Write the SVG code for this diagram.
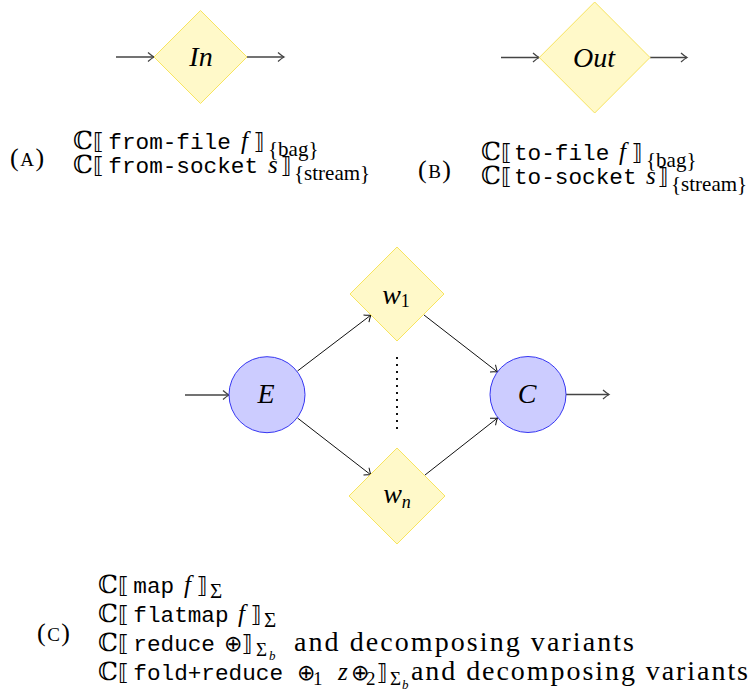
<svg xmlns="http://www.w3.org/2000/svg" width="754" height="699" viewBox="0 0 754 699">
<style>
.dia{fill:#fff9c9;stroke:#f7e45f;stroke-width:1}
.cir{fill:#ccccff;stroke:#3636f2;stroke-width:1}
.edge{stroke:#111;stroke-width:1;fill:none;marker-end:url(#ah)}
.io{stroke:#444;stroke-width:1.3;fill:none;marker-end:url(#ah2)}
.lbl{font-family:'Liberation Serif','DejaVu Serif',serif;font-style:italic;font-size:28px;text-anchor:middle;fill:#000}
.t{font-family:'Liberation Serif','DejaVu Serif',serif;font-size:25px;fill:#000}
.m{font-family:'DejaVu Sans','Liberation Serif',sans-serif;font-size:22px}
.tt{font-family:'Liberation Mono',monospace;font-size:22.7px}
.it{font-style:italic}
.sub{font-size:21px}
.ph{font-size:28px}
.lab{font-size:26px;letter-spacing:1.5px}
</style>
<defs>
<marker id="ah" markerUnits="userSpaceOnUse" markerWidth="12" markerHeight="12" viewBox="-8 -6 10 12" refX="0" refY="0" orient="auto"><path d="M-6,-4.5 Q-2,-1 0,0 Q-2,1 -6,4.5" fill="none" stroke="#111" stroke-width="1"/></marker>
<marker id="ah2" markerUnits="userSpaceOnUse" markerWidth="12" markerHeight="12" viewBox="-8 -6 10 12" refX="0" refY="0" orient="auto"><path d="M-6,-4.5 Q-2,-1 0,0 Q-2,1 -6,4.5" fill="none" stroke="#444" stroke-width="1.3"/></marker>
</defs>

<g id="connectors">
<line class="io" x1="116" y1="57" x2="154" y2="57"/>
<line class="io" x1="247" y1="57" x2="284" y2="57"/>
<line class="io" x1="501" y1="57.5" x2="539" y2="57.5"/>
<line class="io" x1="650" y1="57.5" x2="687" y2="57.5"/>
<line class="io" x1="185" y1="395" x2="229" y2="395"/>
<line class="io" x1="566" y1="394.5" x2="609" y2="394.5"/>
<line class="edge" x1="297.5" y1="371" x2="371" y2="315"/>
<line class="edge" x1="424" y1="315" x2="497.5" y2="372"/>
<line class="edge" x1="297.5" y1="418" x2="371" y2="475"/>
<line class="edge" x1="425" y1="475" x2="497.5" y2="418"/>
<line x1="397" y1="357" x2="397" y2="433" stroke="#111" stroke-width="2" stroke-dasharray="2 5"/>
</g>

<g id="node-in">
<polygon class="dia" points="200.5,10.5 247,57 200.5,103.5 154,57"/>
<text class="lbl" x="201" y="66">In</text>
</g>
<g id="node-out">
<polygon class="dia" points="594.7,2 650,57.5 594.7,113 539.3,57.5"/>
<text class="lbl" x="594" y="67">Out</text>
</g>
<g id="node-e">
<circle class="cir" cx="267" cy="394.7" r="38"/>
<text class="lbl" x="266" y="403">E</text>
</g>
<g id="node-c">
<circle class="cir" cx="528" cy="394.5" r="38"/>
<text class="lbl" x="527" y="403">C</text>
</g>
<g id="node-w1">
<polygon class="dia" points="397,247 444,294 397,341 350,294"/>
<text class="lbl" x="396" y="304">w<tspan font-style="normal" font-size="18" dy="3">1</tspan></text>
</g>
<g id="node-wn">
<polygon class="dia" points="397,448 445,496 397,544 349,496"/>
<text class="lbl" x="397" y="503">w<tspan font-size="18" dy="5">n</tspan></text>
</g>

<g id="caption-a">
<text class="t lab" x="10" y="166">(<tspan font-size="19">A</tspan>)</text>
<text class="t" y="148.5"><tspan x="73">ℂ</tspan><tspan class="m" x="93">⟦</tspan><tspan class="tt" x="108.3">from-file</tspan><tspan class="it" x="241">f</tspan><tspan class="m" x="254">⟧</tspan><tspan class="sub" x="268" y="156">{bag}</tspan></text>
<text class="t" y="172.5"><tspan x="73">ℂ</tspan><tspan class="m" x="93">⟦</tspan><tspan class="tt" x="108.3">from-socket</tspan><tspan class="it" x="268">s</tspan><tspan class="m" x="281">⟧</tspan><tspan class="sub" x="294" y="180">{stream}</tspan></text>
</g>

<g id="caption-b">
<text class="t lab" x="418" y="178">(<tspan font-size="19">B</tspan>)</text>
<text class="t" y="159.5"><tspan x="481">ℂ</tspan><tspan class="m" x="501">⟦</tspan><tspan class="tt" x="514">to-file</tspan><tspan class="it" x="619">f</tspan><tspan class="m" x="632">⟧</tspan><tspan class="sub" x="646" y="167">{bag}</tspan></text>
<text class="t" y="183.5"><tspan x="481">ℂ</tspan><tspan class="m" x="501">⟦</tspan><tspan class="tt" x="514">to-socket</tspan><tspan class="it" x="646">s</tspan><tspan class="m" x="658">⟧</tspan><tspan class="sub" x="671" y="191">{stream}</tspan></text>
</g>

<g id="caption-c">
<text class="t lab" x="37" y="641">(<tspan font-size="19">C</tspan>)</text>
<text class="t" y="593"><tspan x="98">ℂ</tspan><tspan class="m" x="118">⟦</tspan><tspan class="tt" x="133.3">map</tspan><tspan class="it" x="184">f</tspan><tspan class="m" x="197">⟧</tspan><tspan class="sub" font-size="19" x="210" y="598">Σ</tspan></text>
<text class="t" y="622"><tspan x="98">ℂ</tspan><tspan class="m" x="118">⟦</tspan><tspan class="tt" x="133.3">flatmap</tspan><tspan class="it" x="238">f</tspan><tspan class="m" x="251">⟧</tspan><tspan class="sub" font-size="19" x="264" y="627">Σ</tspan></text>
<text class="t" y="651"><tspan x="98">ℂ</tspan><tspan class="m" x="118">⟦</tspan><tspan class="tt" x="133.3">reduce</tspan><tspan class="m" x="224">⊕</tspan><tspan class="m" x="242">⟧</tspan><tspan font-size="19" x="256" y="656">Σ</tspan><tspan class="it" font-size="13" x="269" y="660">b</tspan><tspan class="ph" x="294" y="651" textLength="340" lengthAdjust="spacing">and decomposing variants</tspan></text>
<text class="t" y="680"><tspan x="98">ℂ</tspan><tspan class="m" x="118">⟦</tspan><tspan class="tt" x="133.3">fold+reduce</tspan><tspan class="m" x="297">⊕</tspan><tspan font-size="19" x="313" y="685">1</tspan><tspan class="it" x="338" y="680">z</tspan><tspan class="m" x="351">⊕</tspan><tspan font-size="19" x="366" y="685">2</tspan><tspan class="m" x="377" y="680">⟧</tspan><tspan font-size="19" x="390" y="685">Σ</tspan><tspan class="it" font-size="13" x="402" y="689">b</tspan><tspan class="ph" x="411" y="680" textLength="337" lengthAdjust="spacing">and decomposing variants</tspan></text>
</g>
</svg>
